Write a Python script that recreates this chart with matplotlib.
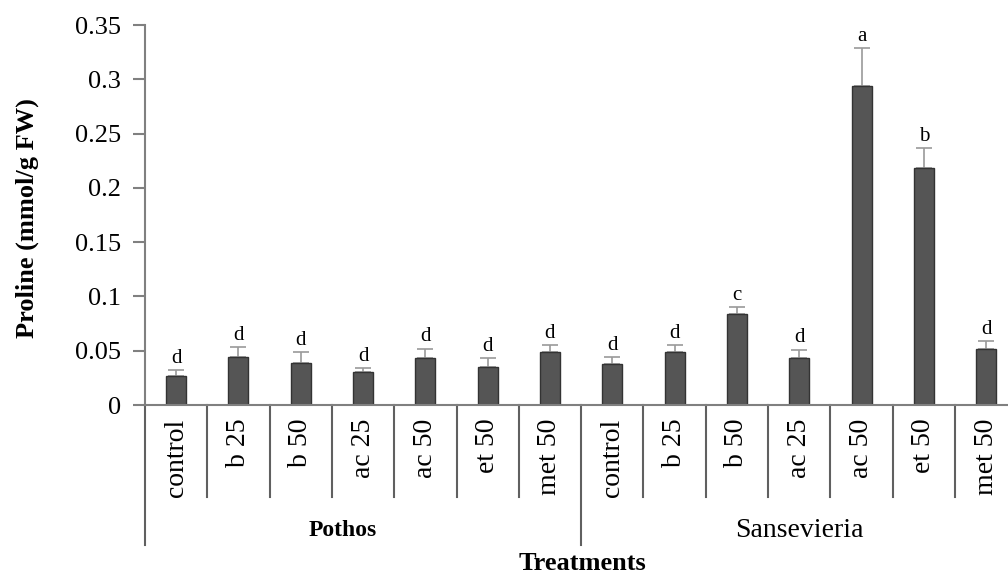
import matplotlib
matplotlib.use("Agg")
import matplotlib.pyplot as plt

treatments = ["control", "b 25", "b 50", "ac 25", "ac 50", "et 50", "met 50"]
groups = ["Pothos", "Sansevieria"]

pothos_mean = [0.027, 0.0445, 0.0385, 0.030, 0.043, 0.035, 0.049]
pothos_err = [0.005, 0.0085, 0.010, 0.004, 0.009, 0.008, 0.006]
sans_mean = [0.038, 0.049, 0.084, 0.043, 0.294, 0.218, 0.0515]
sans_err = [0.006, 0.006, 0.006, 0.008, 0.035, 0.019, 0.0075]

pothos_letters = ["d", "d", "d", "d", "d", "d", "d"]
sans_letters = ["d", "d", "c", "d", "a", "b", "d"]

means = pothos_mean + sans_mean
errs = pothos_err + sans_err
letters = pothos_letters + sans_letters
labels = treatments + treatments
x = list(range(len(means)))

plt.rcParams["font.family"] = ["Liberation Serif", "DejaVu Serif"]

fig = plt.figure(figsize=(10.08, 5.78), dpi=100)
ax = fig.add_axes([0.1438, 0.2993, 0.8562, 0.6574])

ax.bar(x, means, width=0.32, color="#555555", edgecolor="#333333", linewidth=1.0, zorder=2)
ax.errorbar(x, means, yerr=[[0] * len(errs), errs], fmt="none", ecolor="#9a9a9a",
            elinewidth=1.2, capsize=6, capthick=1.2, zorder=1)

for xi, m, e, l in zip(x, means, errs, letters):
    ax.text(xi, m + e + 0.002, l, ha="center", va="bottom", fontsize=15)

ax.set_xlim(-0.5, 13.35)
ax.set_ylim(0, 0.35)
ax.set_yticks([0, 0.05, 0.1, 0.15, 0.2, 0.25, 0.3, 0.35])
ax.set_yticklabels(["0", "0.05", "0.1", "0.15", "0.2", "0.25", "0.3", "0.35"], fontsize=19)
ax.tick_params(axis="y", direction="out", length=9, width=1.5, color="#808080", pad=8)
ax.set_xticks([])

for side in ["top", "right"]:
    ax.spines[side].set_visible(False)
for side in ["left", "bottom"]:
    ax.spines[side].set_color("#808080")
    ax.spines[side].set_linewidth(1.5)

# category labels and separators under the axis
trans = ax.get_xaxis_transform()
for xi, lab in zip(x, labels):
    ax.text(xi, -0.035, lab, rotation=90, ha="center", va="top", fontsize=20, transform=trans)
for b in range(1, len(x)):
    if b == len(treatments):
        continue
    ax.plot([b - 0.5, b - 0.5], [0, -0.242], color="#606060", lw=1.5, transform=trans, clip_on=False)
for b in [0, len(treatments)]:
    ax.plot([b - 0.5, b - 0.5], [0, -0.368], color="#606060", lw=1.5, transform=trans, clip_on=False)

ax.text(2.68, -0.33, groups[0], ha="center", va="center", fontsize=17, fontweight="bold", transform=trans)
ax.text(10.0, -0.33, groups[1], ha="center", va="center", fontsize=20, transform=trans)

fig.text(582 / 1008, 1 - 563 / 578, "Treatments", ha="center", va="center", fontsize=19, fontweight="bold")
fig.text(27 / 1008, 1 - 218 / 578, "Proline (mmol/g FW)", rotation=90, ha="center", va="center",
         fontsize=19, fontweight="bold")

fig.savefig("out.png", dpi=100)
